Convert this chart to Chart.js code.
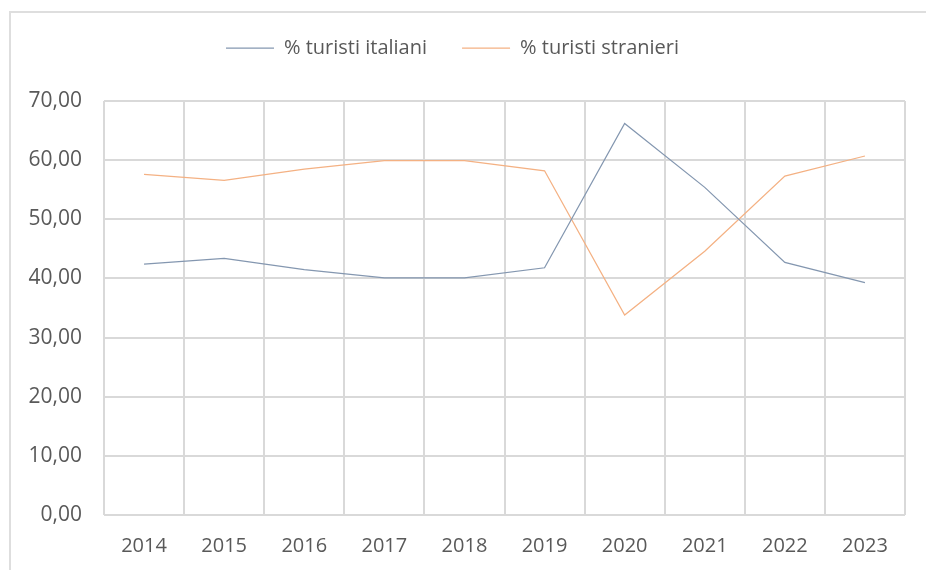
<!DOCTYPE html>
<html>
<head>
<meta charset="utf-8">
<script src="https://cdn.jsdelivr.net/npm/chart.js@4"></script>
<style>
  html, body { margin: 0; padding: 0; background: #ffffff; }
  #wrap { position: relative; width: 926px; height: 570px; overflow: hidden; }
  #frame { position: absolute; left: 9px; top: 11px; width: 1000px; height: 1000px;
           border-top: 2px solid #dedede; border-left: 2px solid #dedede; box-sizing: border-box; }
  #c { position: absolute; left: 0; top: 0; }
</style>
</head>
<body>
<div id="wrap">
  <div id="frame"></div>
  <canvas id="c" width="926" height="570"></canvas>
</div>
<script>
const years = ['2014', '2015', '2016', '2017', '2018', '2019', '2020', '2021', '2022', '2023'];
const italiani = [42.4, 43.4, 41.5, 40.1, 40.1, 41.8, 66.2, 55.4, 42.7, 39.3];
const stranieri = [57.6, 56.6, 58.5, 59.9, 59.9, 58.2, 33.8, 44.6, 57.3, 60.7];
const seriesNames = ['% turisti italiani', '% turisti stranieri'];
const yMin = 0, yMax = 70, yStep = 10;

const FONT = "'Open Sans', 'Liberation Sans', sans-serif";
const TEXT = '#595959';
const GRID = '#d9d9d9';

const legendHeightPlugin = {
  id: 'legendHeight',
  afterInit(chart) {
    const lg = chart.legend;
    if (!lg) return;
    const origFit = lg.fit.bind(lg);
    lg.fit = function () { origFit(); this.height = 98; };
  }
};

new Chart(document.getElementById('c'), {
  type: 'line',
  data: {
    labels: years,
    datasets: [
      { label: seriesNames[0], data: italiani, borderColor: '#8497b0', backgroundColor: '#8497b0',
        borderWidth: 1.25, pointRadius: 0, tension: 0, fill: false },
      { label: seriesNames[1], data: stranieri, borderColor: '#f4b183', backgroundColor: '#f4b183',
        borderWidth: 1.25, pointRadius: 0, tension: 0, fill: false }
    ]
  },
  options: {
    responsive: false,
    animation: false,
    devicePixelRatio: 1,
    layout: { padding: { left: 0, right: 21, top: 3, bottom: 0 } },
    plugins: {
      legend: {
        display: true,
        position: 'top',
        labels: {
          usePointStyle: true,
          pointStyle: 'line',
          pointStyleWidth: 48,
          padding: 35,
          color: TEXT,
          font: { family: FONT, size: 20 }
        }
      },
      tooltip: { enabled: false }
    },
    scales: {
      x: {
        offset: true,
        grid: { offset: true, color: GRID, lineWidth: 2, drawTicks: false },
        border: { display: false },
        ticks: { color: TEXT, font: { family: FONT, size: 20 }, padding: 19, maxRotation: 0 },
        afterFit(scale) { scale.height = 55; }
      },
      y: {
        min: yMin, max: yMax,
        grid: { color: GRID, lineWidth: 2, drawTicks: false },
        border: { display: false },
        ticks: {
          stepSize: yStep, color: TEXT, font: { family: FONT, size: 21 }, padding: 22,
          callback: v => v.toFixed(2).replace('.', ',')
        },
        afterFit(scale) { scale.width = 104; }
      }
    }
  },
  plugins: [legendHeightPlugin]
});
</script>
</body>
</html>
